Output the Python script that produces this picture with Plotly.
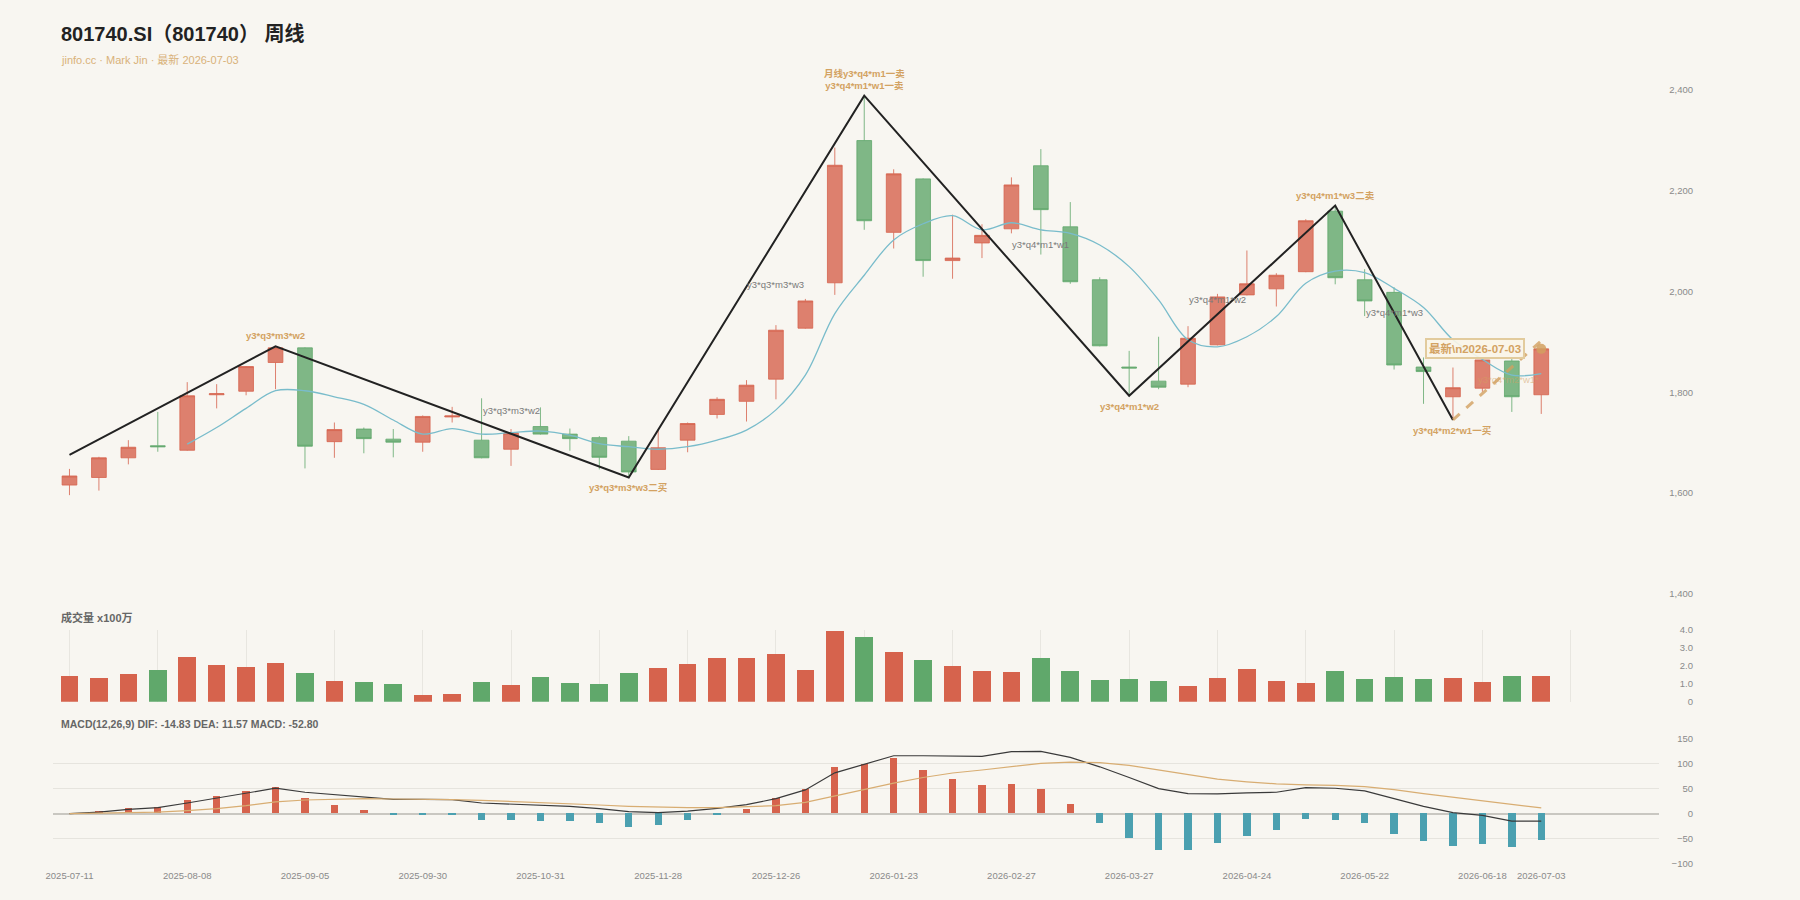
import plotly.graph_objects as go

# ---------------- data ----------------
dates = ["2025-07-11", "2025-07-18", "2025-07-25", "2025-08-01", "2025-08-08", "2025-08-15",
         "2025-08-22", "2025-08-29", "2025-09-05", "2025-09-12", "2025-09-19", "2025-09-26",
         "2025-09-30", "2025-10-10", "2025-10-17", "2025-10-24", "2025-10-31", "2025-11-07",
         "2025-11-14", "2025-11-21", "2025-11-28", "2025-12-05", "2025-12-12", "2025-12-19",
         "2025-12-26", "2025-12-31", "2026-01-09", "2026-01-16", "2026-01-23", "2026-01-30",
         "2026-02-06", "2026-02-13", "2026-02-27", "2026-03-06", "2026-03-13", "2026-03-20",
         "2026-03-27", "2026-04-03", "2026-04-10", "2026-04-17", "2026-04-24", "2026-04-30",
         "2026-05-08", "2026-05-15", "2026-05-22", "2026-05-29", "2026-06-05", "2026-06-12",
         "2026-06-18", "2026-06-26", "2026-07-03"]

opens = [1616, 1631, 1670, 1694, 1685, 1795, 1802, 1859, 1888, 1702, 1727, 1707, 1701, 1751,
         1705, 1687, 1732, 1717, 1710, 1703, 1647, 1705, 1756, 1782, 1826, 1927, 2017, 2299,
         2117, 2223, 2061, 2096, 2124, 2249, 2128, 2023, 1850, 1822, 1816, 1894, 1993, 2005,
         2039, 2159, 2023, 1998, 1850, 1791, 1808, 1862, 1795]
highs = [1648, 1672, 1705, 1761, 1820, 1816, 1852, 1891, 1889, 1740, 1730, 1727, 1754, 1771,
         1788, 1727, 1770, 1728, 1713, 1713, 1725, 1740, 1790, 1824, 1933, 1985, 2285, 2388,
         2242, 2224, 2152, 2133, 2226, 2282, 2177, 2028, 1882, 1910, 1931, 1995, 2081, 2036,
         2143, 2170, 2044, 2008, 1869, 1849, 1869, 1866, 1887]
lows = [1596, 1605, 1657, 1682, 1684, 1768, 1794, 1806, 1649, 1670, 1679, 1671, 1682, 1740,
        1669, 1654, 1716, 1684, 1647, 1631, 1646, 1681, 1748, 1742, 1786, 1926, 1993, 2122,
        2085, 2029, 2025, 2066, 2115, 2073, 2015, 1891, 1793, 1806, 1810, 1893, 1992, 1970,
        2038, 2014, 1951, 1845, 1777, 1745, 1801, 1761, 1757]
closes = [1634, 1670, 1691, 1692, 1793, 1797, 1851, 1888, 1693, 1726, 1708, 1701, 1752, 1753,
          1670, 1719, 1717, 1708, 1671, 1642, 1690, 1738, 1786, 1814, 1923, 1981, 2250, 2140,
          2233, 2061, 2066, 2111, 2211, 2162, 2019, 1892, 1848, 1810, 1907, 1989, 2015, 2032,
          2140, 2027, 1981, 1854, 1841, 1809, 1864, 1791, 1886]
ma5 = [None, None, None, None, 1697, 1730, 1768, 1803, 1803, 1791, 1776, 1745, 1717, 1728,
       1717, 1720, 1723, 1715, 1698, 1692, 1687, 1692, 1705, 1725, 1765, 1834, 1956, 2032,
       2102, 2134, 2150, 2122, 2136, 2122, 2115, 2092, 2049, 1983, 1904, 1890, 1910, 1950,
       2016, 2040, 2037, 2006, 1968, 1904, 1865, 1834, 1837]
volume = [1.43, 1.30, 1.56, 1.75, 2.49, 2.07, 1.93, 2.16, 1.62, 1.15, 1.08, 0.97, 0.39, 0.45,
          1.10, 0.91, 1.36, 1.04, 0.97, 1.58, 1.90, 2.12, 2.44, 2.44, 2.64, 1.79, 3.93, 3.59,
          2.77, 2.31, 1.99, 1.71, 1.66, 2.46, 1.69, 1.23, 1.28, 1.15, 0.86, 1.32, 1.80, 1.15,
          1.04, 1.73, 1.28, 1.38, 1.25, 1.32, 1.12, 1.41, 1.43]
dif = [0, 3.3, 8.7, 12, 21.3, 30.7, 40, 50.7, 42.7, 38, 32.7, 28.7, 28.7, 28, 21.3, 19.3, 17.3,
       14.7, 10, 4, 2, 5.3, 10.7, 18, 30, 47.3, 81.3, 98, 115.3, 115.3, 114.7, 114, 123.3, 124,
       112, 93.3, 72, 50, 40, 39.3, 41.3, 42.7, 52, 50.7, 45.3, 29.3, 14.7, 2, -3.3, -14.7, -14.83]
dea = [0, 0.7, 2, 3.3, 6, 10, 16, 23.5, 27.3, 29.3, 30, 29.3, 29.3, 28, 26.7, 24.7, 22.7, 20,
       17.3, 14.7, 12.7, 12, 12, 13.3, 16, 22.7, 35.3, 48, 61, 72, 81, 87, 94, 100, 102.5, 101.5,
       96, 86.5, 77, 69, 63.5, 59.3, 57.5, 56.5, 54, 48, 40, 33, 25, 17.5, 11.57]
macd_hist = [0, 4, 10.7, 12.7, 27.3, 34.7, 44.7, 52.7, 30, 17.3, 6.7, -2.7, -2.7, -2.7, -13.3,
             -14, -14.7, -15.3, -20, -26.7, -23.3, -14, -2.7, 9.3, 30, 48, 92, 98.7, 109.3, 87.3,
             68, 56.7, 58, 48, 18, -18.7, -48.7, -72, -72, -58.7, -44.7, -33.3, -11.3, -12.7,
             -20, -40, -54, -64.7, -61.3, -66, -52.8]

tick_idx = [0, 4, 8, 12, 16, 20, 24, 28, 32, 36, 40, 44, 48, 50]

zigzag_idx = [0, 7, 19, 27, 36, 43, 47]
zigzag_val = [1676, 1891, 1631, 2388, 1793, 2170, 1745]
pending_idx = [47, 50]
pending_val = [1745, 1902]

gold_labels = [  # (index, value, text, position)
    (7, 1891, "y3*q3*m3*w2", "top"),
    (19, 1631, "y3*q3*m3*w3二买", "bottom"),
    (27, 2388, "月线y3*q4*m1一卖<br>y3*q4*m1*w1一卖", "top"),
    (36, 1793, "y3*q4*m1*w2", "bottom"),
    (43, 2170, "y3*q4*m1*w3二卖", "top"),
    (47, 1745, "y3*q4*m2*w1一买", "bottom"),
]
gray_labels = [
    (15, 1763, "y3*q3*m3*w2"),
    (24, 2013, "y3*q3*m3*w3"),
    (33, 2093, "y3*q4*m1*w1"),
    (39, 1983, "y3*q4*m1*w2"),
    (45, 1959, "y3*q4*m1*w3"),
]

# ---------------- style ----------------
BG = "#f8f6f1"
RED = "rgb(214,99,77)"
GREEN = "rgb(96,168,107)"
RED_A = "rgba(214,99,77,0.8)"
GREEN_A = "rgba(96,168,107,0.8)"
TEAL = "rgb(75,160,176)"
GOLD = "#d3a262"
TICK = "#8a8a8a"
FONT = "Liberation Sans, Noto Sans CJK SC, sans-serif"
NARROW = "Liberation Sans Narrow, Liberation Sans, sans-serif"

x = list(range(len(dates)))
X_DOMAIN = [53 / 1800, 1659 / 1800]
X_RANGE = [-0.56, 54.0]
Y_POS = 1693 / 1800

up = [c >= o for o, c in zip(opens, closes)]
vol_colors = [RED if u else GREEN for u in up]
hist_colors = [RED if h >= 0 else TEAL for h in macd_hist]

fig = go.Figure()

fig.add_trace(go.Candlestick(
    x=x, open=opens, high=highs, low=lows, close=closes,
    xaxis="x", yaxis="y", whiskerwidth=0,
    increasing=dict(line=dict(color=RED_A, width=1), fillcolor=RED_A),
    decreasing=dict(line=dict(color=GREEN_A, width=1), fillcolor=GREEN_A),
    showlegend=False, hoverinfo="skip"))

fig.add_trace(go.Scatter(x=x, y=ma5, mode="lines", xaxis="x", yaxis="y",
                         line=dict(color="#79bccb", width=1.3, shape="spline"),
                         showlegend=False, hoverinfo="skip"))

fig.add_trace(go.Scatter(x=zigzag_idx, y=zigzag_val, mode="lines", xaxis="x", yaxis="y",
                         line=dict(color="#222222", width=2), showlegend=False, hoverinfo="skip"))

fig.add_trace(go.Scatter(x=pending_idx, y=pending_val, mode="lines", xaxis="x", yaxis="y",
                         line=dict(color="rgba(210,160,96,0.8)", width=3, dash="dash"),
                         showlegend=False, hoverinfo="skip"))

fig.add_trace(go.Scatter(x=[x[-1]], y=[closes[-1]], mode="markers", xaxis="x", yaxis="y",
                         marker=dict(color="rgba(210,160,96,0.85)", size=10),
                         showlegend=False, hoverinfo="skip"))

fig.add_trace(go.Bar(x=x, y=volume, xaxis="x2", yaxis="y2", width=0.6,
                     marker=dict(color=vol_colors, line=dict(width=0)),
                     showlegend=False, hoverinfo="skip"))

fig.add_trace(go.Bar(x=x, y=macd_hist, xaxis="x3", yaxis="y3", width=0.25,
                     marker=dict(color=hist_colors, line=dict(width=0)),
                     showlegend=False, hoverinfo="skip"))
fig.add_trace(go.Scatter(x=x, y=dif, mode="lines", xaxis="x3", yaxis="y3",
                         line=dict(color="#3a3a3a", width=1.2), showlegend=False, hoverinfo="skip"))
fig.add_trace(go.Scatter(x=x, y=dea, mode="lines", xaxis="x3", yaxis="y3",
                         line=dict(color="#d8ad72", width=1.2), showlegend=False, hoverinfo="skip"))

annotations = []
for i, v, t, pos in gold_labels:
    annotations.append(dict(
        x=i, y=v, xref="x", yref="y", text="<b>" + t + "</b>", showarrow=False,
        yanchor="bottom" if pos == "top" else "top",
        yshift=3 if pos == "top" else -3,
        font=dict(family=FONT, size=9.5, color=GOLD)))
for i, v, t in gray_labels:
    annotations.append(dict(
        x=i, y=v, xref="x", yref="y", text=t, showarrow=False,
        font=dict(family=FONT, size=9.5, color="#7a7a7a")))

annotations.append(dict(
    x=49.45, y=closes[-1], xref="x", yref="y", text="<b>最新\\n" + dates[-1] + "</b>",
    showarrow=False, xanchor="right", yanchor="middle",
    font=dict(family=FONT, size=11.5, color=GOLD),
    bgcolor="rgba(250,245,232,0.9)", bordercolor="#e2cb9d", borderwidth=2, borderpad=2))
annotations.append(dict(
    x=48.9, y=1826, xref="x", yref="y", text="y3*q4*m2*w1*", showarrow=False,
    font=dict(family=FONT, size=9.5, color="rgba(210,160,96,0.55)")))

annotations.append(dict(
    x=59 / 1800, y=1 - 34 / 900, xref="paper", yref="paper", xanchor="left", yanchor="middle",
    text="<b>801740.SI（801740） 周线</b>", showarrow=False,
    font=dict(family=FONT, size=20, color="#222222")))
annotations.append(dict(
    x=59 / 1800, y=1 - 59 / 900, xref="paper", yref="paper", xanchor="left", yanchor="middle",
    text="jinfo.cc · Mark Jin · 最新 " + dates[-1], showarrow=False,
    font=dict(family=FONT, size=11, color="#d8b27a")))
annotations.append(dict(
    x=59 / 1800, y=1 - 617 / 900, xref="paper", yref="paper", xanchor="left", yanchor="middle",
    text="<b>成交量 x100万</b>", showarrow=False,
    font=dict(family=FONT, size=11, color="#666666")))
annotations.append(dict(
    x=59 / 1800, y=1 - 724 / 900, xref="paper", yref="paper", xanchor="left", yanchor="middle",
    text="<b>MACD(12,26,9) DIF: %.2f DEA: %.2f MACD: %.2f</b>" % (dif[-1], dea[-1], macd_hist[-1]),
    showarrow=False, font=dict(family=FONT, size=10.5, color="#666666")))

common_x = dict(domain=X_DOMAIN, range=X_RANGE, showline=False, zeroline=False, ticks="")
ytick_font = dict(family=NARROW, size=9.5, color=TICK)

fig.update_layout(
    width=1800, height=900, margin=dict(l=0, r=0, t=0, b=0, pad=0, autoexpand=False),
    paper_bgcolor=BG, plot_bgcolor=BG, bargap=0, boxgap=0.5, boxgroupgap=0,
    font=dict(family=FONT, size=10, color=TICK),
    annotations=annotations,
    xaxis=dict(**common_x, anchor="y", showticklabels=False, showgrid=False,
               rangeslider=dict(visible=False)),
    yaxis=dict(domain=[1 - 594 / 900, 1 - 89.6 / 900], range=[1400, 2400],
               anchor="free", position=Y_POS, side="left",
               tickvals=[1400, 1600, 1800, 2000, 2200, 2400], tickformat=",",
               showgrid=False, zeroline=False, ticks="", tickfont=ytick_font),
    xaxis2=dict(**common_x, anchor="y2", showticklabels=False, showgrid=True,
                gridcolor="#e8e6e0", gridwidth=1, tick0=0, dtick=3),
    yaxis2=dict(domain=[1 - 701.7 / 900, 1 - 630 / 900], range=[0, 4],
                anchor="free", position=Y_POS, side="left",
                tickvals=[0, 1, 2, 3, 4], ticktext=["0", "1.0", "2.0", "3.0", "4.0"],
                showgrid=False, zeroline=False, ticks="", tickfont=ytick_font),
    xaxis3=dict(**common_x, anchor="y3", showgrid=False, ticklabelstandoff=4,
                tickvals=tick_idx, ticktext=[dates[i] for i in tick_idx],
                tickfont=dict(family=NARROW, size=9.5, color=TICK)),
    yaxis3=dict(domain=[1 - 864 / 900, 1 - 738.3 / 900], range=[-100, 150],
                anchor="free", position=Y_POS, side="left",
                tickvals=[-100, -50, 0, 50, 100, 150], showgrid=True, gridcolor="#e6e4de",
                zeroline=True, zerolinecolor="#c9c7c1", zerolinewidth=1.5,
                ticks="", tickfont=ytick_font),
)

fig.write_html("out.html")
